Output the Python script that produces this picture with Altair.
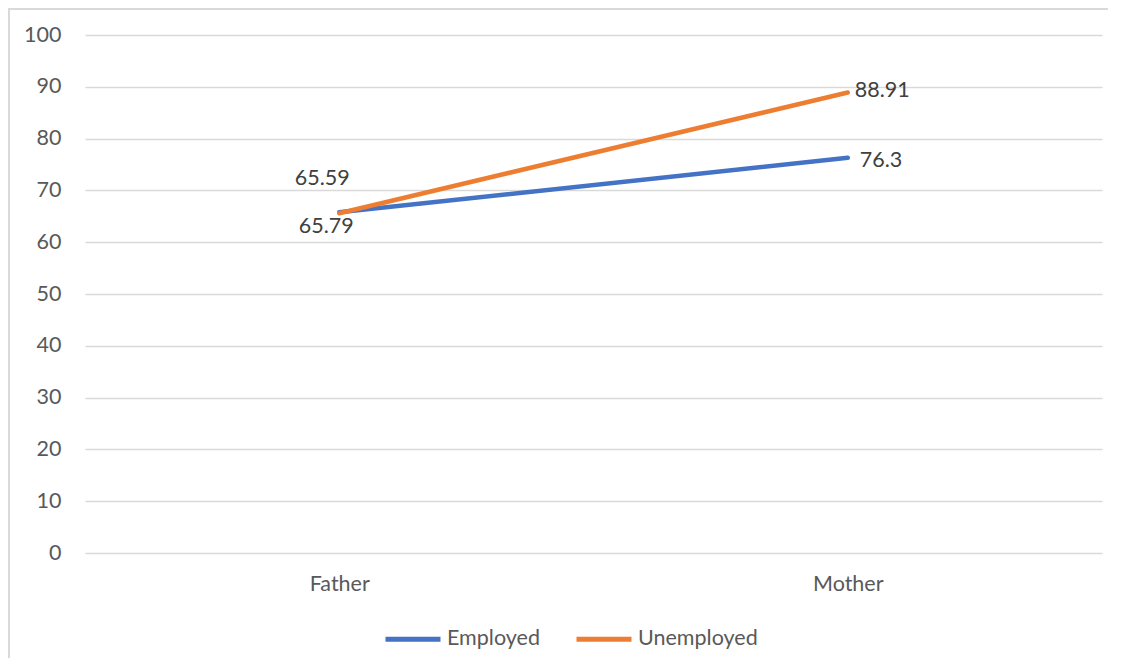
import altair as alt
import pandas as pd

categories = ["Father", "Mother"]
series_names = ["Employed", "Unemployed"]
employed = [65.79, 76.3]
unemployed = [65.59, 88.91]
y_ticks = list(range(0, 101, 10))
colors = ["#4472C4", "#ED7D31"]

rows = []
for name, vals in zip(series_names, [employed, unemployed]):
    for c, v in zip(categories, vals):
        rows.append({"parent": c, "status": name, "value": v, "label": f"{v:g}"})
df = pd.DataFrame(rows)

W, H = 1100, 650
FONT = "Lato"
FS = 21.5
AXIS_GRAY = "#595959"
LABEL_GRAY = "#404040"
GRID = "#d9d9d9"

PLOT_L, PLOT_R, PLOT_T, PLOT_B = 77, 1094, 27, 545

x_scale = alt.Scale(type="point", domain=categories, range=[PLOT_L, PLOT_R], padding=0.5)
y_scale = alt.Scale(domain=[0, 100], range=[PLOT_B, PLOT_T], nice=False, zero=True)

x_enc = alt.X(
    "parent:N", scale=x_scale, sort=categories,
    axis=alt.Axis(title=None, orient="bottom", offset=-(H - PLOT_B), domain=False,
                  ticks=False, tickSize=0, labelPadding=37, labelBaseline="alphabetic",
                  labelAngle=0, labelFont=FONT, labelFontSize=FS, labelColor=AXIS_GRAY,
                  grid=False),
)
y_enc = alt.Y(
    "value:Q", scale=y_scale,
    axis=alt.Axis(title=None, values=y_ticks, offset=-PLOT_L, domain=False, ticks=False,
                  tickSize=0, labelPadding=24, grid=True, gridColor=GRID, gridWidth=1.5,
                  labelFont=FONT, labelFontSize=FS, labelColor=AXIS_GRAY),
)

# thin light-grey frame strips along the chart's left and top edges (decoration)
frame_df = pd.DataFrame({"a": [0]})
frame_left = alt.Chart(frame_df).mark_rect(color=GRID, strokeWidth=0).encode(
    x=alt.value(0), x2=alt.value(2), y=alt.value(0), y2=alt.value(H)
)
frame_top = alt.Chart(frame_df).mark_rect(color=GRID, strokeWidth=0).encode(
    x=alt.value(0), x2=alt.value(W), y=alt.value(0), y2=alt.value(2)
)

base = alt.Chart(df)

line = base.mark_line(strokeWidth=4.5, strokeCap="round", strokeJoin="round").encode(
    x=x_enc,
    y=y_enc,
    color=alt.Color(
        "status:N",
        scale=alt.Scale(domain=series_names, range=colors),
        legend=alt.Legend(title=None, orient="none", direction="horizontal",
                          legendX=375, legendY=601, symbolType="stroke",
                          symbolSize=3025, symbolStrokeWidth=5, labelFont=FONT,
                          labelFontSize=FS, labelColor=AXIS_GRAY, labelOffset=4,
                          columnPadding=26),
    ),
    order=alt.Order("status:N"),
)


def label_layer(status, parent, dx, dy, align):
    return base.transform_filter(
        (alt.datum.status == status) & (alt.datum.parent == parent)
    ).mark_text(dx=dx, dy=dy, align=align, baseline="middle", font=FONT,
                fontSize=FS, color=LABEL_GRAY).encode(
        x=x_enc, y=y_enc, text="label:N"
    )


texts = [
    label_layer("Unemployed", "Father", -17, -34, "center"),
    label_layer("Employed", "Father", -13, 15, "center"),
    label_layer("Unemployed", "Mother", 7, -1, "left"),
    label_layer("Employed", "Mother", 12, 3, "left"),
]

chart = alt.layer(frame_left, frame_top, line, *texts).properties(
    width=W, height=H, padding=0, background="white"
).configure_view(stroke=None)

chart.save("out.html", embed_options={"renderer": "svg", "actions": False})
